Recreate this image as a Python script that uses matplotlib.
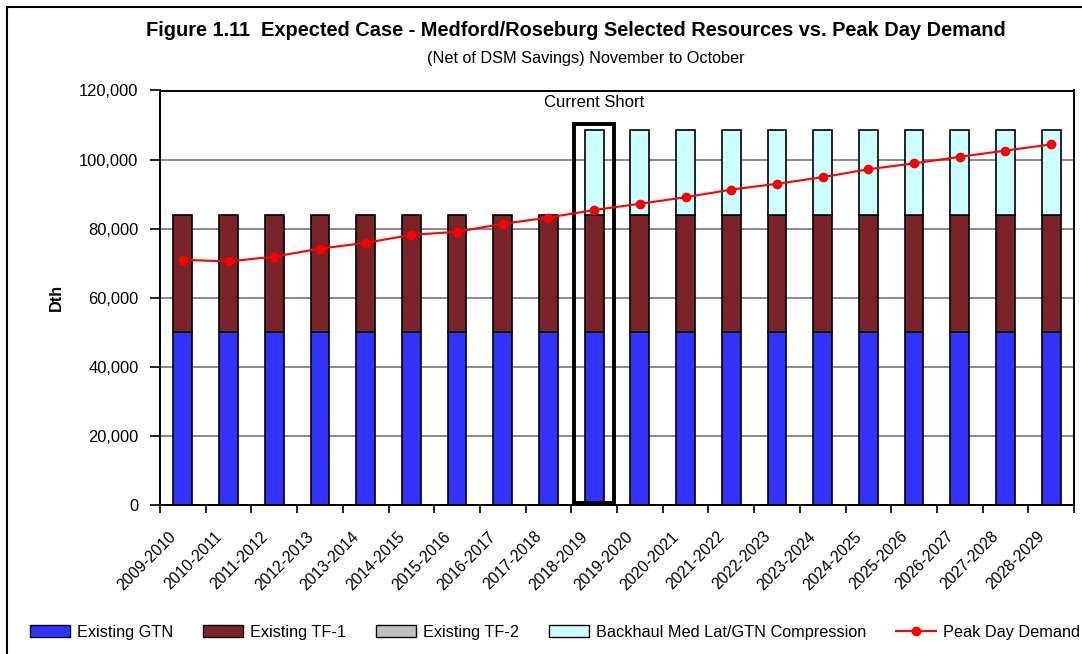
import matplotlib
matplotlib.use("Agg")
import matplotlib.pyplot as plt
from matplotlib.patches import Rectangle, Patch
from matplotlib.lines import Line2D
import matplotlib.transforms as mtransforms
import numpy as np

plt.rcParams['font.family'] = ['Liberation Sans', 'DejaVu Sans']

categories = ["2009-2010", "2010-2011", "2011-2012", "2012-2013", "2013-2014",
              "2014-2015", "2015-2016", "2016-2017", "2017-2018", "2018-2019",
              "2019-2020", "2020-2021", "2021-2022", "2022-2023", "2023-2024",
              "2024-2025", "2025-2026", "2026-2027", "2027-2028", "2028-2029"]
existing_gtn = [50000] * 20
existing_tf1 = [34000] * 20
existing_tf2 = [0] * 20
backhaul = [0] * 9 + [24700] * 11
peak_demand = [71000, 70500, 71900, 74200, 75900, 78200, 79100, 81400, 83200, 85400,
               87200, 89100, 91300, 93000, 94900, 97200, 98900, 100800, 102600, 104400]
current_short_index = 9

fig = plt.figure(figsize=(10.82, 6.54), dpi=100)
ax = fig.add_axes([160/1082, 149/654, 914/1082, 414.5/654])

x = np.arange(len(categories))
w = 0.41
c_gtn, c_tf1, c_tf2, c_bh = '#3333FF', '#7A2328', '#C0C0C0', '#CCFFFF'
b1 = np.array(existing_gtn)
b2 = b1 + np.array(existing_tf1)
b3 = b2 + np.array(existing_tf2)
ax.bar(x, existing_gtn, w, color=c_gtn, edgecolor='black', linewidth=1.2, zorder=2)
ax.bar(x, existing_tf1, w, bottom=b1, color=c_tf1, edgecolor='black', linewidth=1.2, zorder=2)
ax.bar(x, existing_tf2, w, bottom=b2, color=c_tf2, edgecolor='none', linewidth=0, zorder=2)
bh = np.array(backhaul)
mask = bh > 0
ax.bar(x[mask], bh[mask], w, bottom=b3[mask], color=c_bh, edgecolor='black', linewidth=1.2, zorder=2)
ax.plot(x, peak_demand, color='#FF0000', linewidth=1.5, marker='o', markersize=6, zorder=4)

# Current short box
top = b3[current_short_index] + bh[current_short_index]
ax.add_patch(Rectangle((current_short_index - 0.44, 700), 0.88, top + 1500 - 700,
                       fill=False, edgecolor='black', linewidth=2.8, zorder=3))
ax.text(current_short_index, 116600, "Current Short", ha='center', va='center', fontsize=12)

ax.set_xlim(-0.5, len(categories) - 0.5)
ax.set_ylim(0, 120000)
ax.set_yticks(np.arange(0, 120001, 20000))
ax.set_yticklabels([f"{v:,}" for v in range(0, 120001, 20000)], fontsize=11.9)
ax.yaxis.grid(True, color='#808080', linewidth=1.3, zorder=0)
ax.set_axisbelow(True)
ax.tick_params(axis='y', direction='out', length=7, width=1.2, pad=8.5)
ax.set_xticks(x)
ax.set_xticklabels(categories, rotation=45, ha='right', va='center', rotation_mode='anchor', fontsize=11.3)
ax.tick_params(axis='x', which='major', length=0, pad=21)
offset = mtransforms.ScaledTranslation(-9/100, 0, fig.dpi_scale_trans)
for lbl in ax.get_xticklabels():
    lbl.set_transform(lbl.get_transform() + offset)
ax.set_xticks(np.arange(-0.5, len(categories) + 0.5, 1), minor=True)
ax.tick_params(axis='x', which='minor', direction='out', length=6, width=1.2)
for s in ax.spines.values():
    s.set_linewidth(1.4)
ax.set_ylabel("Dth", fontsize=11.7, fontweight='bold')
ax.yaxis.set_label_coords(-0.105, 0.5)

fig.text(576/1082, 1 - 30/654, "Figure 1.11  Expected Case - Medford/Roseburg Selected Resources vs. Peak Day Demand",
         ha='center', va='center', fontsize=14.4, fontweight='bold')
fig.text(586/1082, 1 - 58/654, "(Net of DSM Savings) November to October",
         ha='center', va='center', fontsize=11.7)

handles = [Patch(facecolor=c_gtn, edgecolor='black'),
           Patch(facecolor=c_tf1, edgecolor='black'),
           Patch(facecolor=c_tf2, edgecolor='black'),
           Patch(facecolor=c_bh, edgecolor='black'),
           Line2D([0], [0], color='#FF0000', marker='o', markersize=6, linewidth=1.5)]
labels = ["Existing GTN", "Existing TF-1", "Existing TF-2",
          "Backhaul Med Lat/GTN Compression", "Peak Day Demand"]
fig.legend(handles, labels, loc='center', bbox_to_anchor=(555/1082, 1 - 632/654), ncol=5,
           frameon=False, fontsize=11.7, handlelength=2.46, handleheight=0.7, columnspacing=1.85,
           handletextpad=0.43)

fig.patches.append(Rectangle((7/1082, -0.01), 1.0, 1 - 7/654 + 0.01, transform=fig.transFigure,
                             fill=False, edgecolor='black', linewidth=1.5))

fig.savefig("out.png", dpi=100)
